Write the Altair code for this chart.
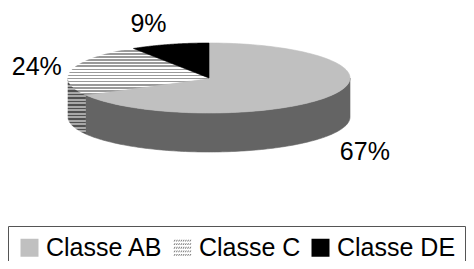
import altair as alt
import pandas as pd

# ---- data ----
categories = ["Classe AB", "Classe C", "Classe DE"]
values = [67, 24, 9]

# ---- layout / style constants (chart pixel space) ----
W, H = 458, 253
CX, CY = 201, 70          # pie centre
RX, RY = 141, 35          # top ellipse radii
DEPTH = 39                # thickness of the 3-D pie
N = 120                   # arc resolution
LX, LY, LBASE = 152, 60, 12
FONT = "Liberation Sans"

top_fill = ["#c0c0c0", None, "#000000"]
wall_fill = ["#646464", None, "#000000"]


def stripes(n, c1, c2, frac):
    stops = []
    for k in range(n):
        o0 = k / n
        o1 = (k + frac) / n
        o2 = (k + 1) / n
        stops += [
            alt.GradientStop(offset=o0, color=c1),
            alt.GradientStop(offset=o1, color=c1),
            alt.GradientStop(offset=o1, color=c2),
            alt.GradientStop(offset=o2, color=c2),
        ]
    return alt.LinearGradient(gradient="linear", stops=stops, x1=0, y1=0, x2=0, y2=1)


top_fill[1] = stripes(15, "#ffffff", "#9a9a9a", 0.5)
wall_fill[1] = stripes(16, "#a8a8a8", "#505050", 0.5)

# hatch symbol for the legend (rows of small diagonal dashes)
parts = []
for r in range(5):
    yc = -0.8 + r * 0.4
    x = -1.0
    while x < 0.9:
        parts.append(
            f"M{x:.2f},{yc + 0.1:.2f}L{x + 0.12:.2f},{yc + 0.1:.2f}"
            f"L{x + 0.24:.2f},{yc - 0.1:.2f}L{x + 0.12:.2f},{yc - 0.1:.2f}Z"
        )
        x += 0.25
HATCH = "".join(parts)

df = pd.DataFrame({"category": categories, "value": values,
                   "idx": list(range(len(categories)))})

X = alt.X("x:Q", scale=alt.Scale(domain=[0, W], nice=False, zero=False), axis=None)
Y = alt.Y("y:Q", scale=alt.Scale(domain=[H, 0], nice=False, zero=False), axis=None)

base = (
    alt.Chart(df)
    .transform_joinaggregate(total="sum(value)")
    .transform_window(cum="sum(value)", sort=[alt.SortField("idx")], frame=[None, 0])
    .transform_calculate(a0="2*PI*(datum.cum - datum.value)/datum.total")
    .transform_calculate(a1="2*PI*datum.cum/datum.total")
)

# ---- top faces ----
top = (
    base.transform_calculate(pts=f"sequence(0, {N + 3})")
    .transform_flatten(["pts"], as_=["i"])
    .transform_calculate(ang=f"datum.a0 + (datum.a1 - datum.a0) * (datum.i - 1) / {N}")
    .transform_calculate(
        x=f"(datum.i == 0 || datum.i == {N + 2}) ? {CX} : {CX} + {RX} * sin(datum.ang)")
    .transform_calculate(
        y=f"(datum.i == 0 || datum.i == {N + 2}) ? {CY} : {CY} - {RY} * cos(datum.ang)")
)

# ---- front walls ----
wall = (
    base.transform_calculate(w0="max(datum.a0, PI/2)")
    .transform_calculate(w1="min(datum.a1, 3*PI/2)")
    .transform_filter("datum.w1 > datum.w0")
    .transform_calculate(pts=f"sequence(0, {2 * N + 3})")
    .transform_flatten(["pts"], as_=["i"])
    .transform_calculate(
        j=f"datum.i <= {N} ? datum.i : (datum.i <= {2 * N + 1} ? {2 * N + 1} - datum.i : 0)")
    .transform_calculate(ang=f"datum.w0 + (datum.w1 - datum.w0) * datum.j / {N}")
    .transform_calculate(x=f"{CX} + {RX} * sin(datum.ang)")
    .transform_calculate(
        y=f"{CY} - {RY} * cos(datum.ang) + ((datum.i > {N} && datum.i <= {2 * N + 1}) ? {DEPTH} : 0)")
)

layers = []

# legend carrier (hidden under the pie top)
L = alt.Legend(
    title=None, orient="none", legendX=0, legendY=218, direction="horizontal",
    columns=3, strokeColor="#555555", padding=9, symbolSize=324,
    symbolStrokeWidth=0, labelFontSize=25, labelFont=FONT, labelColor="#000000",
    labelOffset=4, columnPadding=7, labelLimit=300,
)
leg = (
    base.transform_calculate(x=str(CX), y=str(CY))
    .mark_point(filled=True, size=324, opacity=1, strokeWidth=0)
    .encode(
        x=X, y=Y,
        color=alt.Color("category:N",
                        scale=alt.Scale(domain=categories,
                                        range=["#c0c0c0", "#7a7a7a", "#000000"]),
                        legend=L),
        shape=alt.Shape("category:N",
                        scale=alt.Scale(domain=categories,
                                        range=["square", HATCH, "square"]),
                        legend=L),
    )
)
layers.append(leg)

for k in range(len(categories)):
    layers.append(
        wall.transform_filter(f"datum.idx == {k}")
        .mark_line(fill=wall_fill[k], stroke=wall_fill[k], strokeWidth=0.6)
        .encode(x=X, y=Y, order=alt.Order("i:Q"))
    )
for k in range(len(categories)):
    layers.append(
        top.transform_filter(f"datum.idx == {k}")
        .mark_line(fill=top_fill[k], stroke=top_fill[k], strokeWidth=0.6)
        .encode(x=X, y=Y, order=alt.Order("i:Q"))
    )

# ---- percentage labels ----
lab = (
    base.transform_calculate(m="(datum.a0 + datum.a1) / 2")
    .transform_calculate(x=f"{CX} + {LX} * sin(datum.m)")
    .transform_calculate(
        y=f"{CY} - {LY} * cos(datum.m) + (cos(datum.m) < 0 ? {DEPTH} : 0) + {LBASE}")
    .transform_calculate(label="format(datum.value / datum.total, '.0%')")
)
layers.append(
    lab.transform_filter("sin(datum.m) >= 0")
    .mark_text(align="left", baseline="alphabetic", fontSize=25, font=FONT, color="#000000")
    .encode(x=X, y=Y, text="label:N")
)
layers.append(
    lab.transform_filter("sin(datum.m) < 0")
    .mark_text(align="right", baseline="alphabetic", fontSize=25, font=FONT, color="#000000")
    .encode(x=X, y=Y, text="label:N")
)

chart = (
    alt.layer(*layers)
    .properties(width=W, height=H, padding=0, autosize="none", background="#ffffff")
    .configure(font=FONT)
    .configure_view(strokeWidth=0)
)

chart.save("out.html", embed_options={"renderer": "svg", "actions": False})
